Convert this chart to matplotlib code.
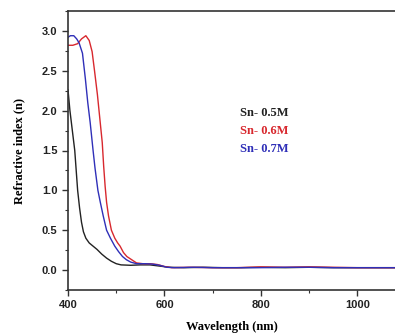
import matplotlib
matplotlib.use("Agg")
import matplotlib.pyplot as plt
from matplotlib.ticker import MultipleLocator

# Sn- 0.5M
wl_05 = [400, 404, 409, 414, 417, 420, 424, 428, 432, 437, 444, 452, 460, 470, 480, 490,
         500, 510, 530, 550, 570, 590, 610, 640, 680, 720, 760, 800, 850, 900, 950, 1000, 1050, 1080]
n_05 = [2.26, 2.0, 1.75, 1.5, 1.25, 1.0, 0.78, 0.6, 0.48, 0.40, 0.34, 0.30, 0.26, 0.20, 0.15, 0.11,
        0.08, 0.065, 0.06, 0.065, 0.065, 0.05, 0.035, 0.03, 0.035, 0.03, 0.03, 0.035, 0.03, 0.035, 0.03, 0.03, 0.03, 0.03]

# Sn- 0.6M
wl_06 = [400, 410, 420, 428, 437, 444, 450, 455, 461, 466, 471, 474, 477, 480, 484, 490, 497, 503,
         508, 515, 522, 532, 542, 555, 570, 585, 600, 615, 650, 700, 750, 800, 850, 900, 950, 1000, 1050, 1080]
n_06 = [2.82, 2.82, 2.84, 2.90, 2.94, 2.88, 2.74, 2.5, 2.2, 1.9, 1.6, 1.3, 1.05, 0.85, 0.68, 0.5, 0.4, 0.34,
        0.30, 0.22, 0.17, 0.13, 0.09, 0.08, 0.08, 0.07, 0.045, 0.03, 0.035, 0.03, 0.03, 0.04, 0.035, 0.04, 0.035, 0.03, 0.03, 0.03]

# Sn- 0.7M
wl_07 = [400, 405, 412, 418, 423, 430, 436, 441, 446, 452, 456, 462, 467, 473, 480, 488, 497, 505,
         513, 521, 530, 542, 560, 575, 590, 605, 620, 660, 700, 750, 800, 850, 900, 950, 1000, 1050, 1080]
n_07 = [2.92, 2.94, 2.94, 2.90, 2.85, 2.72, 2.4, 2.1, 1.85, 1.5, 1.28, 1.0, 0.85, 0.68, 0.5, 0.4, 0.30, 0.23,
        0.17, 0.13, 0.10, 0.08, 0.08, 0.075, 0.06, 0.035, 0.03, 0.035, 0.03, 0.03, 0.03, 0.035, 0.035, 0.03, 0.03, 0.03, 0.03]

labels = ["Sn- 0.5M", "Sn- 0.6M", "Sn- 0.7M"]
colors = ["#222222", "#d8282e", "#2f2fb8"]

fig = plt.figure(figsize=(3.95, 3.35), dpi=100)
ax = fig.add_axes([68 / 395, 45 / 335, 1 - 68 / 395, 279 / 335])

for wl, n, c in [(wl_05, n_05, colors[0]), (wl_06, n_06, colors[1]), (wl_07, n_07, colors[2])]:
    ax.plot(wl, n, color=c, lw=1.0)

ax.set_xlim(400, 1078)
ax.set_ylim(-0.25, 3.25)
ax.xaxis.set_major_locator(MultipleLocator(200))
ax.xaxis.set_minor_locator(MultipleLocator(100))
ax.yaxis.set_major_locator(MultipleLocator(0.5))
ax.yaxis.set_minor_locator(MultipleLocator(0.25))
ax.tick_params(which="major", direction="out", length=4, width=1, colors="#333333",
               labelsize=8, labelcolor="#222222")
ax.tick_params(which="minor", direction="out", length=2.5, width=0.8, colors="#333333")
for lab in ax.get_xticklabels() + ax.get_yticklabels():
    lab.set_fontweight("bold")
    lab.set_family("Liberation Sans")

for s in ["left", "bottom", "top"]:
    ax.spines[s].set_color("#333333")
    ax.spines[s].set_linewidth(1.2)
ax.spines["right"].set_visible(False)

serif = dict(family="Liberation Serif", fontweight="bold", fontsize=9)
ax.set_xlabel("Wavelength (nm)", **serif)
ax.set_ylabel("Refractive index (n)", **serif)
ax.xaxis.set_label_coords(0.5, -0.11)
ax.yaxis.set_label_coords(-0.13, 0.5)

for i, (t, c) in enumerate(zip(labels, colors)):
    ax.text(0.527, 0.635 - i * 0.065, t, color=c, transform=ax.transAxes,
            va="center", ha="left", **serif)

fig.savefig("out.png", dpi=100)
